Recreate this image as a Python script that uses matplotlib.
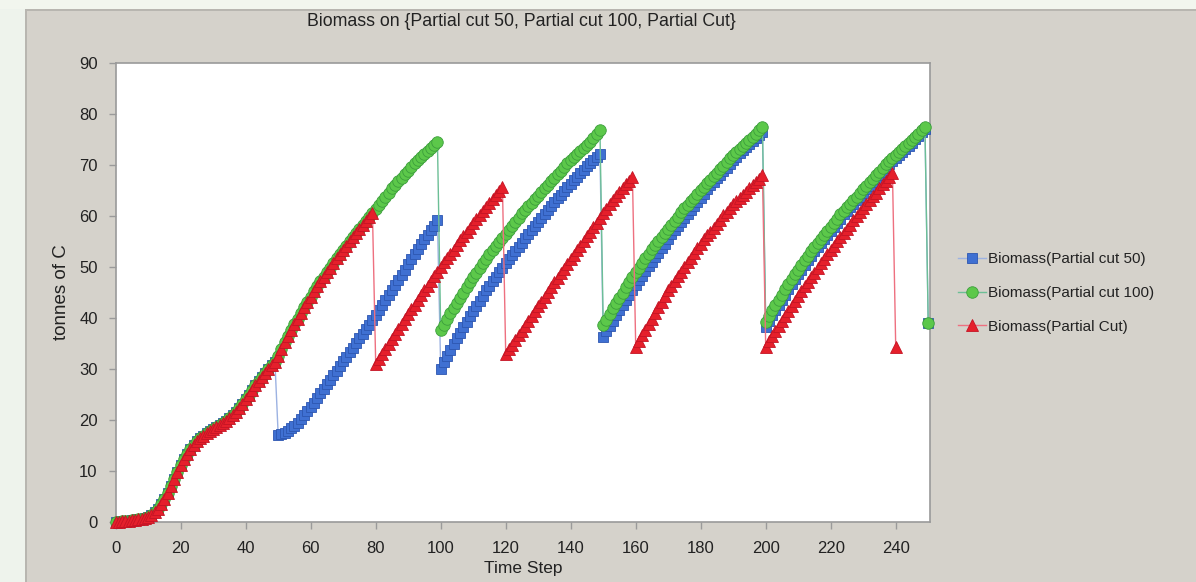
import matplotlib
matplotlib.use("Agg")
import matplotlib.pyplot as plt
from matplotlib.patches import Rectangle

plt.rcParams['font.family'] = ['Liberation Sans', 'DejaVu Sans']

# ---- data ----
common = [0.0, 0.05, 0.1, 0.15, 0.2, 0.3, 0.4, 0.5, 0.6, 0.8,
          1.0, 1.4, 2.0, 2.6, 3.5, 4.5, 5.7, 7.0, 8.4, 9.8,
          11.1, 12.3, 13.4, 14.3, 15.1, 15.8, 16.4, 16.9, 17.4, 17.8,
          18.2, 18.6, 19.0, 19.4, 19.8, 20.3, 20.9, 21.6, 22.4, 23.2,
          24.1, 25.0, 25.9, 26.8, 27.7, 28.5, 29.3, 30.0, 30.7, 31.3,
          32.6, 33.9, 35.2, 36.4, 37.6, 38.8, 39.9, 41.0, 42.1, 43.2,
          44.2, 45.2, 46.2, 47.2, 48.1, 49.0, 49.9, 50.8, 51.7, 52.6,
          53.4, 54.2, 55.0, 55.8, 56.6, 57.4, 58.2, 59.0, 59.8, 60.6,
          61.4, 62.2, 63.0, 63.8, 64.6, 65.4, 66.1, 66.8, 67.5, 68.2,
          68.9, 69.6, 70.3, 70.9, 71.5, 72.1, 72.7, 73.3, 73.9, 74.6]

# Partial cut 50: steps 50..250
pc50_after = [17.0, 17.2, 17.5, 17.9, 18.4, 18.9, 19.5, 20.2, 20.9, 21.7,
              22.5, 23.4, 24.3, 25.2, 26.1, 27.0, 27.9, 28.8, 29.7, 30.6,
              31.5, 32.4, 33.3, 34.2, 35.1, 36.0, 36.9, 37.8, 38.7, 39.6,
              40.5, 41.5, 42.5, 43.5, 44.5, 45.5, 46.5, 47.5, 48.5, 49.5,
              50.5, 51.5, 52.5, 53.5, 54.5, 55.4, 56.3, 57.2, 58.1, 59.2,
              30.0, 31.3, 32.5, 33.7, 34.9, 36.0, 37.1, 38.2, 39.3, 40.4,
              41.4, 42.4, 43.4, 44.4, 45.4, 46.3, 47.2, 48.1, 49.0, 49.9,
              50.8, 51.6, 52.4, 53.2, 54.0, 54.8, 55.6, 56.4, 57.2, 58.0,
              58.8, 59.6, 60.4, 61.2, 62.0, 62.8, 63.5, 64.2, 64.9, 65.6,
              66.3, 67.0, 67.7, 68.4, 69.1, 69.8, 70.4, 71.0, 71.6, 72.2,
              36.3, 37.4, 38.5, 39.5, 40.5, 41.5, 42.5, 43.5, 44.5, 45.5,
              46.5, 47.4, 48.3, 49.2, 50.1, 51.0, 51.9, 52.8, 53.7, 54.6,
              55.5, 56.4, 57.2, 58.0, 58.8, 59.6, 60.4, 61.2, 62.0, 62.8,
              63.6, 64.4, 65.2, 66.0, 66.7, 67.4, 68.1, 68.8, 69.5, 70.2,
              70.9, 71.6, 72.3, 72.9, 73.5, 74.1, 74.7, 75.3, 75.9, 76.5,
              38.3, 39.4, 40.5, 41.6, 42.6, 43.6, 44.6, 45.6, 46.6, 47.6,
              48.6, 49.5, 50.4, 51.3, 52.2, 53.1, 53.9, 54.7, 55.5, 56.3,
              57.1, 57.9, 58.7, 59.5, 60.3, 61.0, 61.7, 62.4, 63.1, 63.8,
              64.5, 65.2, 65.9, 66.6, 67.3, 68.0, 68.7, 69.4, 70.1, 70.8,
              71.4, 72.0, 72.6, 73.2, 73.8, 74.4, 75.0, 75.7, 76.4, 77.1,
              39.0]

# Partial cut 100: steps 100..250
pc100_after = [37.6, 38.7, 39.8, 40.9, 42.0, 43.0, 44.0, 45.0, 46.0, 47.0,
               48.0, 48.9, 49.8, 50.7, 51.6, 52.5, 53.3, 54.1, 54.9, 55.7,
               56.5, 57.3, 58.1, 58.9, 59.7, 60.5, 61.2, 61.9, 62.6, 63.3,
               64.0, 64.7, 65.4, 66.1, 66.8, 67.5, 68.2, 68.9, 69.6, 70.3,
               70.9, 71.5, 72.1, 72.7, 73.3, 73.9, 74.6, 75.3, 76.1, 76.9,
               38.6, 39.7, 40.8, 41.9, 43.0, 44.0, 45.0, 46.0, 47.0, 48.0,
               49.0, 49.9, 50.8, 51.7, 52.6, 53.5, 54.3, 55.1, 55.9, 56.7,
               57.5, 58.3, 59.1, 59.9, 60.7, 61.5, 62.2, 62.9, 63.6, 64.3,
               65.0, 65.7, 66.4, 67.1, 67.8, 68.5, 69.2, 69.9, 70.6, 71.3,
               71.9, 72.5, 73.1, 73.7, 74.3, 74.9, 75.5, 76.1, 76.8, 77.5,
               39.3, 40.4, 41.5, 42.6, 43.6, 44.6, 45.6, 46.6, 47.6, 48.6,
               49.5, 50.4, 51.3, 52.2, 53.1, 53.9, 54.7, 55.5, 56.3, 57.1,
               57.9, 58.7, 59.5, 60.3, 61.0, 61.7, 62.4, 63.1, 63.8, 64.5,
               65.2, 65.9, 66.6, 67.3, 68.0, 68.7, 69.4, 70.1, 70.7, 71.3,
               71.9, 72.5, 73.1, 73.7, 74.3, 74.9, 75.5, 76.1, 76.8, 77.5,
               39.0]

# Partial Cut: steps 80..240
pc_after = [31.0, 32.0, 33.0, 33.9, 34.9, 35.9, 36.9, 37.9, 38.8, 39.8,
            40.8, 41.7, 42.6, 43.5, 44.5, 45.4, 46.3, 47.2, 48.2, 49.1,
            50.0, 50.9, 51.7, 52.6, 53.4, 54.3, 55.2, 56.0, 56.9, 57.7,
            58.6, 59.4, 60.2, 61.0, 61.8, 62.6, 63.4, 64.1, 64.9, 65.7,
            33.0, 33.9, 34.8, 35.7, 36.6, 37.5, 38.5, 39.4, 40.4, 41.3,
            42.3, 43.2, 44.2, 45.1, 46.0, 47.0, 47.9, 48.8, 49.7, 50.6,
            51.5, 52.4, 53.3, 54.2, 55.1, 56.0, 56.9, 57.8, 58.7, 59.6,
            60.5, 61.4, 62.3, 63.1, 63.9, 64.7, 65.5, 66.2, 66.9, 67.7,
            34.4, 35.5, 36.6, 37.7, 38.8, 39.9, 41.0, 42.1, 43.2, 44.3,
            45.4, 46.3, 47.2, 48.2, 49.1, 50.0, 50.9, 51.8, 52.8, 53.7,
            54.6, 55.4, 56.2, 56.9, 57.7, 58.5, 59.3, 60.1, 60.8, 61.6,
            62.4, 63.0, 63.6, 64.2, 64.8, 65.4, 66.0, 66.6, 67.3, 68.0,
            34.4, 35.4, 36.4, 37.4, 38.4, 39.4, 40.4, 41.4, 42.4, 43.4,
            44.4, 45.3, 46.2, 47.1, 48.0, 48.9, 49.8, 50.7, 51.6, 52.5,
            53.4, 54.2, 55.0, 55.9, 56.7, 57.5, 58.3, 59.2, 60.0, 60.8,
            61.6, 62.4, 63.1, 63.9, 64.6, 65.4, 66.2, 66.9, 67.7, 68.5,
            34.4]

pc50 = common[:50] + pc50_after
pc100 = common[:100] + pc100_after
pc = common[:80] + pc_after
t50 = list(range(len(pc50)))
t100 = list(range(len(pc100)))
tpc = list(range(len(pc)))

labels = ["Biomass(Partial cut 50)", "Biomass(Partial cut 100)", "Biomass(Partial Cut)"]
title = "Biomass on {Partial cut 50, Partial cut 100, Partial Cut}"
xticks = list(range(0, 250, 20))
yticks = list(range(0, 91, 10))

# ---- figure ----
W, H = 1196, 582
fig = plt.figure(figsize=(W / 100, H / 100), dpi=100)
fig.patch.set_facecolor("#d5d2cb")
fig.patches.append(Rectangle((0, 0), 25 / W, 1, transform=fig.transFigure,
                             facecolor="#eef3ec", edgecolor="none", zorder=0))
fig.patches.append(Rectangle((0, 1 - 9 / H), 1, 9 / H, transform=fig.transFigure,
                             facecolor="#f2f6ee", edgecolor="none", zorder=0))
fig.patches.append(Rectangle((25 / W, 0), 1.5 / W, 1 - 9 / H, transform=fig.transFigure,
                             facecolor="#b8b6b0", edgecolor="none", zorder=0))
fig.patches.append(Rectangle((25 / W, 1 - 10.5 / H), 1, 1.5 / H, transform=fig.transFigure,
                             facecolor="#b8b6b0", edgecolor="none", zorder=0))

left, right, top, bottom = 115.7, 930, 63, 522
ax = fig.add_axes([left / W, 1 - bottom / H, (right - left) / W, (bottom - top) / H])
ax.set_facecolor("white")

ax.plot(t50, pc50, color="#9cb2e2", lw=1.0, marker="s", ms=7.8,
        mfc="#3f70d2", mec="#2d56b0", mew=0.6, label=labels[0], clip_on=False, zorder=3)
ax.plot(t100, pc100, color="#6cbf96", lw=1.0, marker="o", ms=8.3,
        mfc="#5cc84a", mec="#3c9e3c", mew=0.6, label=labels[1], clip_on=False, zorder=4)
ax.plot(tpc, pc, color="#ee7080", lw=1.0, marker="^", ms=8.8,
        mfc="#e51f2b", mec="#c41424", mew=0.6, label=labels[2], clip_on=False, zorder=5)

ax.set_xlim(0, 250.55)
ax.set_ylim(0, 90)
ax.set_xticks(xticks)
ax.set_yticks(yticks)
for s in ax.spines.values():
    s.set_color("#9a9a9a")
    s.set_linewidth(1.2)
ax.tick_params(axis="both", direction="out", length=5, width=1, color="#9a9a9a",
               labelsize=12, labelcolor="#222222")
ax.tick_params(axis="x", pad=9)
ax.tick_params(axis="y", pad=8)

fig.text((left + right) / 2 / W, 1 - 568 / H, "Time Step", fontsize=12.5,
         color="#222222", ha="center", va="center")
fig.text(62 / W, 1 - 292 / H, "tonnes of C", fontsize=13.5, rotation=90,
         color="#222222", ha="center", va="center")
fig.text(521 / W, 1 - 22 / H, title, fontsize=12.8, color="#222222",
         ha="center", va="center")

leg = fig.legend(loc="upper left", bbox_to_anchor=(958 / W, 1 - 252 / H),
                 frameon=False, fontsize=11, handlelength=1.8, handletextpad=0.15,
                 labelspacing=1.3, borderaxespad=0, borderpad=0)
for txt in leg.get_texts():
    txt.set_color("#222222")

fig.savefig("out.png", dpi=100, facecolor=fig.get_facecolor())
